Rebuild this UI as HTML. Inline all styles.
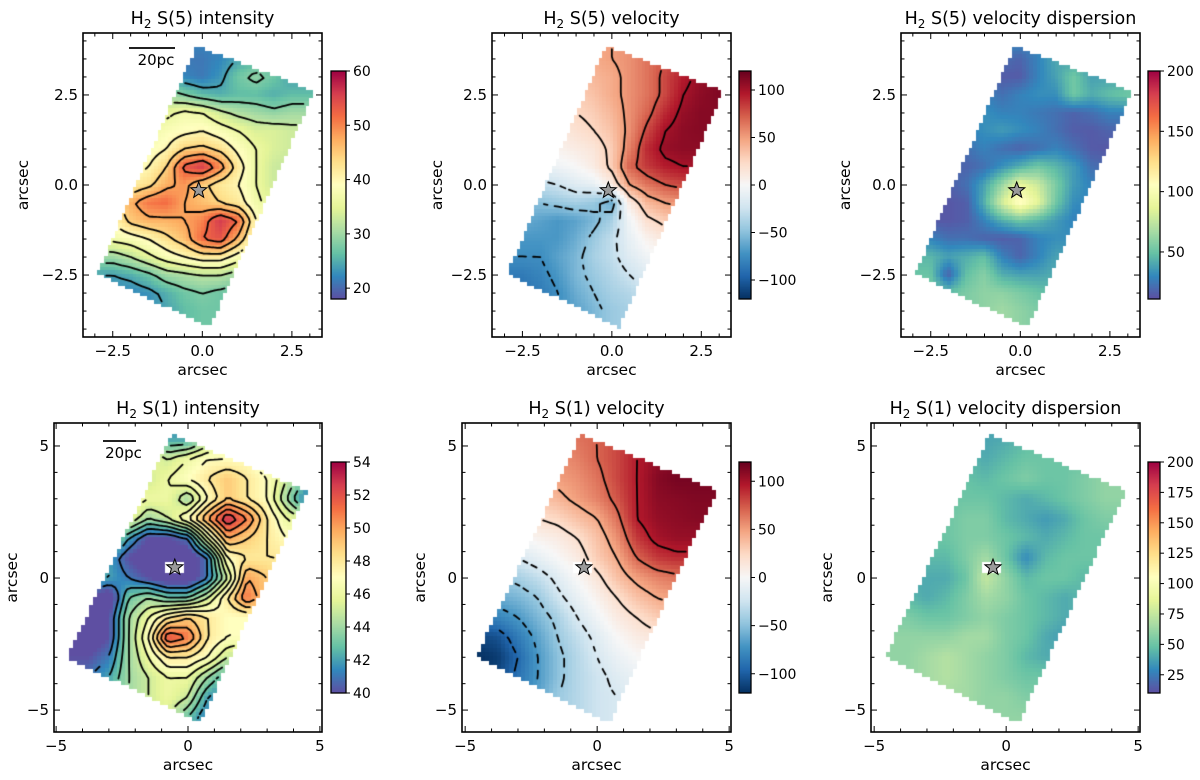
<!DOCTYPE html>
<html><head><meta charset="utf-8"><title>H2 maps</title>
<style>
html,body{margin:0;padding:0;background:#fff;}
#wrap{position:relative;width:1200px;height:780px;overflow:hidden;}
canvas,svg{position:absolute;left:0;top:0;}
text{font-family:"DejaVu Sans","Liberation Sans",sans-serif;fill:#000;}
</style></head>
<body>
<div id="wrap">
<canvas id="cv" width="1200" height="780"></canvas>
<svg id="sv" width="1200" height="780" xmlns="http://www.w3.org/2000/svg"></svg>
</div>
<script>
// ---------- data ----------
const topGridX=[-3,-2.5,-2,-1.5,-1,-0.5,0,0.5,1,1.5,2,2.5,3];
const topGridY=[4,3.5,3,2.5,2,1.5,1,0.5,0,-0.5,-1,-1.5,-2,-2.5,-3,-3.5,-4];
const bottomGridX=[-4.5,-3.75,-3,-2.25,-1.5,-0.75,0,0.75,1.5,2.25,3,3.75,4.5];
const bottomGridY=[5.25,4.5,3.75,3,2.25,1.5,0.75,0,-0.75,-1.5,-2.25,-3,-3.75,-4.5,-5.25];
const topFootprint=[[-0.15,3.85],[3.1,2.6],[0.2,-3.95],[-2.9,-2.45]];
const bottomFootprint=[[-0.6,5.4],[4.5,3.3],[0.45,-5.45],[-4.55,-3.0]];
const bottomHole=[-0.95,-0.1,0.15,0.65];
const topStar=[-0.1,-0.15];
const bottomStar=[-0.5,0.4];

const s5IntensityValues=[
[22,22,22,22,22,22,22,22,22,22,22,22,22],
[22,22,22,22,22,21,21,22,24,25,24,23,23],
[24,24,24,24,24,22,21,23,27,29,27,24,24],
[28,28,28,28,30,28,26,25,26,26,25,26,26],
[34,34,34,34,35,37,36,33,31,30,29,30,30],
[36,36,36,36,38,39,40,38,36,34,34,33,33],
[37,37,37,38,40,44,45,43,39,36,34,33,33],
[38,38,38,40,44,53,56,50,42,36,33,32,32],
[40,40,41,43,47,49,45,42,40,36,33,32,32],
[42,42,47,51,52,48,46,44,42,37,34,32,32],
[40,40,45,47,47,48,50,56,52,40,35,33,33],
[37,37,38,40,43,46,52,54,47,38,34,33,33],
[30,30,32,35,38,40,42,42,38,34,32,32,32],
[24,24,25,27,30,31,32,32,30,28,28,28,28],
[22,22,22,23,25,27,28,27,26,26,26,26,26],
[22,22,22,22,24,26,27,27,26,26,26,26,26],
[22,22,22,22,24,26,27,27,26,26,26,26,26]];
const s5VelocityValues=[
[30,30,30,35,40,45,50,55,60,70,80,90,95],
[30,30,30,35,40,45,50,55,65,75,85,95,100],
[25,25,25,30,35,40,45,55,65,80,95,105,110],
[20,20,20,25,30,35,45,55,65,80,100,108,112],
[15,15,15,20,25,30,40,55,70,90,105,110,110],
[10,10,10,12,18,25,35,55,80,100,108,110,110],
[0,0,0,5,10,15,30,60,90,105,108,108,108],
[-10,-10,-10,-5,0,10,30,70,85,95,100,100,100],
[-30,-30,-30,-25,-15,-10,10,50,65,75,80,80,80],
[-50,-50,-50,-45,-40,-45,-60,10,40,50,55,55,55],
[-60,-60,-65,-70,-65,-55,-40,-5,20,30,35,35,35],
[-70,-70,-70,-70,-60,-45,-30,-10,5,15,20,20,20],
[-75,-75,-75,-65,-55,-40,-30,-15,-5,5,10,10,10],
[-85,-85,-80,-70,-55,-45,-35,-25,-15,-5,0,0,0],
[-90,-90,-85,-75,-60,-50,-40,-35,-25,-15,-10,-10,-10],
[-90,-90,-85,-75,-65,-55,-45,-40,-30,-20,-15,-15,-15],
[-90,-90,-85,-75,-65,-55,-45,-40,-30,-20,-15,-15,-15]];
const s5DispersionValues=[
[30,30,30,30,30,30,30,30,30,30,30,30,30],
[30,30,30,30,30,22,18,28,40,38,32,32,32],
[28,28,28,28,22,15,15,28,38,52,38,38,38],
[28,28,28,28,28,22,28,32,32,52,42,48,52],
[28,28,28,28,32,28,28,25,22,18,22,28,28],
[28,28,28,28,32,36,32,28,22,16,15,18,18],
[22,22,22,22,28,22,18,22,28,22,15,14,14],
[18,18,18,18,22,32,42,52,45,36,22,18,18],
[16,16,16,22,38,62,90,78,55,36,28,22,22],
[14,14,14,16,42,80,110,88,52,32,28,25,25],
[14,14,14,16,28,42,52,45,36,28,25,25,25],
[28,28,22,22,18,16,18,28,32,32,28,28,28],
[45,45,38,42,48,28,18,28,38,38,32,32,32],
[50,50,18,48,58,42,38,38,42,38,32,32,32],
[55,55,48,55,60,60,55,50,45,40,35,35,35],
[55,55,55,55,60,65,60,55,45,40,35,35,35],
[55,55,55,55,60,65,60,55,45,40,35,35,35]];
const s1IntensityValues=[
[46,46,46,46,45,42,42,44,46,46,46,46,46],
[46,46,46,46,46,45,46,47,47,47,46,46,46],
[46,46,46,46,45,46,47,48,49,48,47,45,43],
[47,47,47,47,46,46,44,47,49,48,47,44,41],
[47,47,47,46,44,45,47,50,53,51,48,46,45],
[46,46,45,42,40,40,41,46,50,49,48,47,47],
[45,44,42,40,39,39,39,41,47,48,48,48,48],
[43,43,42,41,40,39,39,41,45,50,49,48,48],
[40,40,39,43,44,43,43,45,48,51,49,48,48],
[40,40,40,44,46,48,49,48,47,47,47,47,47],
[39,39,40,44,47,52,51,48,47,47,47,47,47],
[40,40,41,44,46,48,48,47,45,44,45,45,45],
[41,41,42,44,45,46,46,44,42,42,42,42,42],
[43,43,43,44,45,46,45,42,41,41,41,41,41],
[43,43,43,44,45,45,43,41,40,40,40,40,40]];
const s1VelocityValues=[
[40,45,50,55,60,65,70,80,90,100,105,110,110],
[35,40,45,50,55,60,70,80,95,105,110,115,115],
[30,35,40,45,50,55,65,80,95,110,115,115,115],
[20,25,30,35,40,50,60,75,95,108,110,112,112],
[5,10,15,20,25,35,45,65,95,105,108,110,110],
[-10,-5,0,5,10,20,35,55,85,100,105,105,105],
[-30,-25,-20,-10,0,10,30,45,70,85,90,90,90],
[-50,-45,-40,-30,-15,0,15,35,50,60,65,65,65],
[-65,-60,-55,-45,-25,-10,5,20,35,45,50,50,50],
[-85,-80,-70,-55,-40,-20,-5,10,20,30,35,35,35],
[-110,-105,-85,-65,-45,-30,-15,0,10,15,20,20,20],
[-120,-115,-95,-70,-50,-35,-20,-8,0,5,10,10,10],
[-120,-110,-90,-70,-50,-35,-25,-15,-8,0,5,5,5],
[-115,-105,-85,-65,-45,-35,-25,-20,-12,-5,0,0,0],
[-110,-100,-80,-60,-45,-35,-25,-20,-15,-10,-5,-5,-5]];
const s1DispersionValues=[
[50,50,50,50,45,38,40,45,50,50,50,50,50],
[50,50,50,50,45,40,45,50,50,50,50,50,50],
[50,50,50,50,48,45,50,55,50,50,55,60,60],
[50,50,50,50,50,50,45,40,45,50,55,60,60],
[50,50,50,50,55,55,45,40,35,40,50,55,55],
[50,50,50,50,55,55,50,45,40,45,50,50,50],
[45,45,45,45,55,65,50,30,45,50,50,50,50],
[40,40,40,40,50,75,60,45,50,50,45,45,45],
[45,45,40,45,55,65,60,50,45,40,45,45,45],
[55,55,50,50,55,60,55,50,45,40,45,45,45],
[60,60,60,60,65,65,55,50,40,35,45,45,45],
[60,60,65,70,65,60,55,45,40,45,50,50,50],
[60,60,65,70,65,60,55,50,50,55,55,55,55],
[60,60,65,65,65,60,60,55,55,55,55,55,55],
[60,60,60,60,60,60,60,60,60,60,60,60,60]];

const s5IntensityTicks=[20,30,40,50,60];
const s5VelocityTicks=[-100,-50,0,50,100];
const s5DispersionTicks=[50,100,150,200];
const s1IntensityTicks=[40,42,44,46,48,50,52,54];
const s1VelocityTicks=[-100,-50,0,50,100];
const s1DispersionTicks=[25,50,75,100,125,150,175,200];
const s5IntensityLevels=[24,28,32,36,40,44,48,52,56];
const velocityLevels=[-95,-70,-45,-20,20,45,70,95];
const s5VelocityLevels=[-75,-50,-25,25,50,75,100];
const s1IntensityLevels=[41,42,43,44,45,46,47,48,49,50,51,52,53];
const topMajorTicks=[-2.5,0,2.5];
const bottomMajorTicks=[-5,0,5];

const SPECTRAL_R=['#5e4fa2','#3288bd','#66c2a5','#abdda4','#e6f598','#ffffbf','#fee08b','#fdae61','#f46d43','#d53e4f','#9e0142'];
const RDBU_R=['#053061','#2166ac','#4393c3','#92c5de','#d1e5f0','#f7f7f7','#fddbc7','#f4a582','#d6604d','#b2182b','#67001f'];

// ---------- helpers ----------
function hex(h){return [parseInt(h.slice(1,3),16),parseInt(h.slice(3,5),16),parseInt(h.slice(5,7),16)];}
const SP=SPECTRAL_R.map(hex), RB=RDBU_R.map(hex);
function cmap(stops,t){t=Math.max(0,Math.min(1,t));const n=stops.length-1;let i=Math.min(n-1,Math.floor(t*n));const f=t*n-i;const a=stops[i],b=stops[i+1];
 return 'rgb('+Math.round(a[0]+(b[0]-a[0])*f)+','+Math.round(a[1]+(b[1]-a[1])*f)+','+Math.round(a[2]+(b[2]-a[2])*f)+')';}
function sample(vals,gx,gy,x,y){
 let fx=(x-gx[0])/(gx[1]-gx[0]), fy=(y-gy[0])/(gy[1]-gy[0]);
 fx=Math.max(0,Math.min(gx.length-1.0001,fx)); fy=Math.max(0,Math.min(gy.length-1.0001,fy));
 const i=Math.floor(fx), j=Math.floor(fy), tx=fx-i, ty=fy-j;
 const a=vals[j][i],b=vals[j][i+1],c=vals[j+1][i],d=vals[j+1][i+1];
 return a*(1-tx)*(1-ty)+b*tx*(1-ty)+c*(1-tx)*ty+d*tx*ty;}
function inPoly(p,x,y){let c=false;for(let i=0,j=p.length-1;i<p.length;j=i++){const xi=p[i][0],yi=p[i][1],xj=p[j][0],yj=p[j][1];
 if(((yi>y)!==(yj>y))&&(x<(xj-xi)*(y-yi)/(yj-yi)+xi))c=!c;}return c;}

const panels=[
 {key:'s5-intensity',t:'S(5) intensity',box:[83,322,33,337],xl:[-3.33,3.34],yl:[-4.22,4.22],gx:topGridX,gy:topGridY,v:s5IntensityValues,cm:SP,vmin:18,vmax:60,lev:s5IntensityLevels,fp:topFootprint,hole:null,star:topStar,step:0.1,cb:[331,346,71,299],cbt:s5IntensityTicks,maj:topMajorTicks,minStep:0.5,fmt:1,scale:[129,175,48],ylabX:23},
 {key:'s5-velocity',t:'S(5) velocity',box:[492,731,33,337],xl:[-3.35,3.33],yl:[-4.22,4.22],gx:topGridX,gy:topGridY,v:s5VelocityValues,cm:RB,vmin:-120,vmax:120,lev:s5VelocityLevels,fp:topFootprint,hole:null,star:topStar,step:0.1,cb:[739,751,71,299],cbt:s5VelocityTicks,maj:topMajorTicks,minStep:0.5,fmt:1,ylabX:437},
 {key:'s5-dispersion',t:'S(5) velocity dispersion',box:[901,1140,33,337],xl:[-3.33,3.34],yl:[-4.22,4.22],gx:topGridX,gy:topGridY,v:s5DispersionValues,cm:SP,vmin:11,vmax:200,lev:null,fp:topFootprint,hole:null,star:topStar,step:0.1,cb:[1148,1160,71,299],cbt:s5DispersionTicks,maj:topMajorTicks,minStep:0.5,fmt:1,ylabX:845},
 {key:'s1-intensity',t:'S(1) intensity',box:[54,322,423,732],xl:[-5.08,5.08],yl:[-5.83,5.87],gx:bottomGridX,gy:bottomGridY,v:s1IntensityValues,cm:SP,vmin:40,vmax:54,lev:s1IntensityLevels,fp:bottomFootprint,hole:bottomHole,star:bottomStar,step:0.15,cb:[331,346,462,693],cbt:s1IntensityTicks,maj:bottomMajorTicks,minStep:1,fmt:0,scale:[103,136,441],ylabX:12},
 {key:'s1-velocity',t:'S(1) velocity',box:[462,731,423,732],xl:[-5.12,5.07],yl:[-5.83,5.87],gx:bottomGridX,gy:bottomGridY,v:s1VelocityValues,cm:RB,vmin:-120,vmax:120,lev:velocityLevels,fp:bottomFootprint,hole:bottomHole,star:bottomStar,step:0.15,cb:[739,751,462,693],cbt:s1VelocityTicks,maj:bottomMajorTicks,minStep:1,fmt:0,ylabX:420},
 {key:'s1-dispersion',t:'S(1) velocity dispersion',box:[871,1140,423,732],xl:[-5.12,5.07],yl:[-5.83,5.87],gx:bottomGridX,gy:bottomGridY,v:s1DispersionValues,cm:SP,vmin:10,vmax:200,lev:null,fp:bottomFootprint,hole:bottomHole,star:bottomStar,step:0.15,cb:[1148,1160,462,693],cbt:s1DispersionTicks,maj:bottomMajorTicks,minStep:1,fmt:0,ylabX:827}
];

const cv=document.getElementById('cv'), ctx=cv.getContext('2d');
const sv=document.getElementById('sv'); const NS='http://www.w3.org/2000/svg';
function el(tag,attrs,parent){const e=document.createElementNS(NS,tag);for(const k in attrs)e.setAttribute(k,attrs[k]);(parent||sv).appendChild(e);return e;}
function fmtNum(v,d){const s=Math.abs(v).toFixed(d);return (v<0?'\u2212':'')+s;}

panels.forEach(P=>{
 const [X0,X1,Y0,Y1]=P.box;
 const px=x=>X0+(x-P.xl[0])/(P.xl[1]-P.xl[0])*(X1-X0);
 const py=y=>Y0+(P.yl[1]-y)/(P.yl[1]-P.yl[0])*(Y1-Y0);
 const inside=(x,y)=>inPoly(P.fp,x,y)&&!(P.hole&&x>P.hole[0]&&x<P.hole[1]&&y>P.hole[2]&&y<P.hole[3]);
 const s=P.step; const xs=[],ys=[];
 for(let x=P.xl[0];x<P.xl[1];x+=s)xs.push(x+s/2);
 for(let y=P.yl[1];y>P.yl[0];y-=s)ys.push(y-s/2);
 const val=[],msk=[];
 ys.forEach((y,j)=>{val[j]=[];msk[j]=[];xs.forEach((x,i)=>{msk[j][i]=inside(x,y);val[j][i]=sample(P.v,P.gx,P.gy,x,y);});});
 ys.forEach((y,j)=>xs.forEach((x,i)=>{if(!msk[j][i])return;
  ctx.fillStyle=cmap(P.cm,(val[j][i]-P.vmin)/(P.vmax-P.vmin));
  const a=Math.floor(px(x-s/2)),b=Math.ceil(px(x+s/2)),c=Math.floor(py(y+s/2)),d=Math.ceil(py(y-s/2));
  ctx.fillRect(a,c,b-a,d-c);}));
 if(P.lev){ctx.strokeStyle='#000';ctx.lineWidth=1.8;ctx.lineCap='round';
  P.lev.forEach(L=>{ctx.beginPath();
   for(let j=0;j<ys.length-1;j++)for(let i=0;i<xs.length-1;i++){
    if(!(msk[j][i]&&msk[j][i+1]&&msk[j+1][i]&&msk[j+1][i+1]))continue;
    if(L<0&&(Math.floor((i+j)/2)%2))continue;
    const c=[[xs[i],ys[j],val[j][i]],[xs[i+1],ys[j],val[j][i+1]],[xs[i+1],ys[j+1],val[j+1][i+1]],[xs[i],ys[j+1],val[j+1][i]]];
    const pts=[];
    for(let k=0;k<4;k++){const A=c[k],B=c[(k+1)%4];if((A[2]-L)*(B[2]-L)<0){const t=(L-A[2])/(B[2]-A[2]);pts.push([A[0]+(B[0]-A[0])*t,A[1]+(B[1]-A[1])*t]);}}
    for(let k=0;k+1<pts.length;k+=2){ctx.moveTo(px(pts[k][0]),py(pts[k][1]));ctx.lineTo(px(pts[k+1][0]),py(pts[k+1][1]));}
   }
   ctx.stroke();});}
 const [C0,C1,D0,D1]=P.cb;
 for(let yy=D0;yy<D1;yy++){ctx.fillStyle=cmap(P.cm,(D1-yy-0.5)/(D1-D0));ctx.fillRect(C0,yy,C1-C0,1);}
 const g=el('g',{});
 
 
 const cbg=el('g',{},g);
 
 
 el('rect',{x:C0,y:D0,width:C1-C0,height:D1-D0,fill:'none',stroke:'#000','stroke-width':1.3},cbg);
 P.cbt.forEach(v=>{const yy=D1-(v-P.vmin)/(P.vmax-P.vmin)*(D1-D0);
  el('line',{x1:C1,x2:C1+4,y1:yy,y2:yy,stroke:'#000','stroke-width':1},cbg);
  const t=el('text',{x:C1+7,y:yy+5,'font-size':14},cbg);t.textContent=fmtNum(v,0);
  
  });
 const ax=el('g',{},g);
 
 
 el('rect',{x:X0,y:Y0,width:X1-X0,height:Y1-Y0,fill:'none',stroke:'#000','stroke-width':1.6},ax);
 const lim=Math.ceil(Math.max(Math.abs(P.yl[0]),Math.abs(P.yl[1]))/P.minStep)*P.minStep;
 for(let v=-lim;v<=lim+1e-9;v+=P.minStep){
  const isMaj=P.maj.some(m=>Math.abs(m-v)<1e-6), L=isMaj?6:3.5;
  if(v>P.xl[0]&&v<P.xl[1]){const x=px(v);el('line',{x1:x,x2:x,y1:Y1,y2:Y1-L,stroke:'#000'},ax);el('line',{x1:x,x2:x,y1:Y0,y2:Y0+L,stroke:'#000'},ax);}
  if(v>P.yl[0]&&v<P.yl[1]){const y=py(v);el('line',{x1:X0,x2:X0+L,y1:y,y2:y,stroke:'#000'},ax);el('line',{x1:X1,x2:X1-L,y1:y,y2:y,stroke:'#000'},ax);}
 }
 P.maj.forEach(v=>{
  const tx=el('text',{x:px(v),y:Y1+19,'font-size':15,'text-anchor':'middle'},ax);tx.textContent=fmtNum(v,P.fmt);
  
  
  const ty=el('text',{x:X0-5,y:py(v)+5,'font-size':15,'text-anchor':'end'},ax);ty.textContent=fmtNum(v,P.fmt);
  
  });
 const xl=el('text',{x:(X0+X1)/2,y:Y1+38,'font-size':15.5,'text-anchor':'middle'},ax);xl.textContent='arcsec';
 
 
 const yl=el('text',{x:0,y:0,'font-size':15.5,'text-anchor':'middle',transform:'translate('+(P.ylabX+5)+','+((Y0+Y1)/2)+') rotate(-90)'},ax);yl.textContent='arcsec';
 
 
 const tt=el('text',{x:(X0+X1)/2,y:Y0-9,'font-size':17.5,'text-anchor':'middle'},g);
 
 
 tt.appendChild(document.createTextNode('H'));
 const sub=el('tspan',{dy:4,'font-size':12},tt);sub.textContent='2';
 const rest=el('tspan',{dy:-4},tt);rest.textContent=' '+P.t;
 const sx=px(P.star[0]),sy=py(P.star[1]);let pts='';
 for(let k=0;k<10;k++){const r=k%2?3.6:8.5,a=-Math.PI/2+k*Math.PI/5;pts+=(sx+r*Math.cos(a)).toFixed(1)+','+(sy+r*Math.sin(a)).toFixed(1)+' ';}
 const st=el('polygon',{points:pts,fill:'#9a9a9a',stroke:'#000','stroke-width':1},g);
 
 
 if(P.scale){const sb=el('g',{},g);
  
  
  el('line',{x1:P.scale[0],x2:P.scale[1],y1:P.scale[2],y2:P.scale[2],stroke:'#000','stroke-width':1.8},sb);
  const tl=el('text',{x:(P.scale[0]+P.scale[1])/2+4,y:P.scale[2]+17,'font-size':15,'text-anchor':'middle'},sb);tl.textContent='20pc';}
});
</script>
</body></html>
